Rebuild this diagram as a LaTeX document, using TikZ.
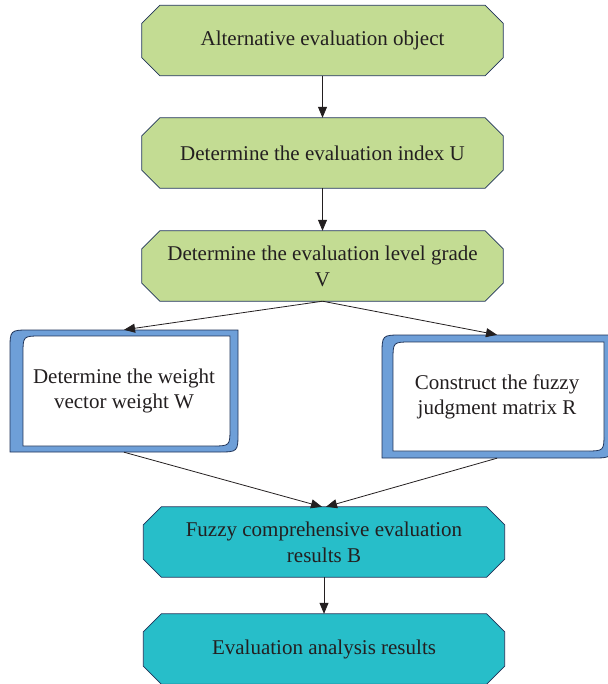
\documentclass[tikz,border=0pt]{standalone}
\usepackage{fontspec}
\setmainfont{Liberation Serif}
\usetikzlibrary{arrows.meta,calc,backgrounds}
\definecolor{grn}{HTML}{C3DC93}
\definecolor{tealb}{HTML}{27BEC9}
\definecolor{frm}{HTML}{6E9FD8}
\definecolor{edgec}{HTML}{1F3358}
\definecolor{ink}{HTML}{231F20}
\newcommand\octpath[2]{\draw[#2] ($(#1.north west)+(18,0)$) -- ($(#1.north east)+(-18,0)$) -- ($(#1.north east)+(0,18)$) -- ($(#1.south east)+(0,-18)$) -- ($(#1.south east)+(-18,0)$) -- ($(#1.south west)+(18,0)$) -- ($(#1.south west)+(0,-18)$) -- ($(#1.north west)+(0,18)$) -- cycle;}
\begin{document}
\begin{tikzpicture}[x=1pt,y=-1pt,
  octbox/.style={rectangle, minimum width=361pt, minimum height=70pt, inner sep=0pt,
    align=center, text=ink, font=\fontsize{21}{26}\selectfont},
  octline/.style={draw=edgec, line width=0.8pt},
  framebox/.style={inner sep=0pt, align=center, text=ink, font=\fontsize{21}{25}\selectfont},
  framefill/.style={fill=frm, draw=edgec, line width=0.8pt},
  framein/.style={fill=white, draw=edgec, line width=0.8pt},
  conn/.style={draw=ink, line width=0.8pt, -{Triangle[length=11pt,width=9pt]}}
]
\useasboundingbox (0,0) rectangle (607,684);

% frames
\draw[framefill] (10,452) -- (10,350) .. controls (10,330) .. (30,330) -- (238,330) -- (238,432) .. controls (238,452) .. (218,452) -- cycle;
\draw[framein] (23,446) -- (23,354) .. controls (23,336) .. (41,336) -- (230,336) -- (230,428) .. controls (230,446) .. (212,446) -- cycle;
\draw[framefill] (382,458) -- (382,355) .. controls (382,335) .. (402,335) -- (612,335) -- (612,438) .. controls (612,458) .. (592,458) -- cycle;
\draw[framein] (393,451) -- (393,360) .. controls (393,342) .. (411,342) -- (604,342) -- (604,433) .. controls (604,451) .. (586,451) -- cycle;

\node[octbox] (b1) at (322.5,40.5) {Alternative evaluation object};
\node[octbox] (b2) at (322.5,153) {Determine the evaluation index U};
\node[octbox] (b3) at (322.5,266) {Determine the evaluation level grade\\V};
\node[framebox, minimum width=228pt, minimum height=122pt] (lf) at (124,391) {Determine the weight\\vector weight W};
\node[framebox, minimum width=230pt, minimum height=123pt] (rf) at (497,396.5) {Construct the fuzzy\\judgment matrix R};
\node[octbox] (fz) at (324,542) {Fuzzy comprehensive evaluation\\results B};
\node[octbox] (ev) at (324,649) {Evaluation analysis results};

\begin{scope}[on background layer]
\octpath{b1}{octline, fill=grn}
\octpath{b2}{octline, fill=grn}
\octpath{b3}{octline, fill=grn}
\octpath{fz}{octline, fill=tealb}
\octpath{ev}{octline, fill=tealb}
\end{scope}

\draw[conn] (b1.south) -- (b2.north);
\draw[conn] (b2.south) -- (b3.north);
\draw[conn] (b3.south) -- (lf.north);
\draw[conn] (b3.south) -- (rf.north);
\draw[conn] (lf.south) -- ($(fz.north)+(-2,0)$);
\draw[conn] (rf.south) -- ($(fz.north)+(2,0)$);
\draw[conn] (fz.south) -- (ev.north);
\end{tikzpicture}
\end{document}
